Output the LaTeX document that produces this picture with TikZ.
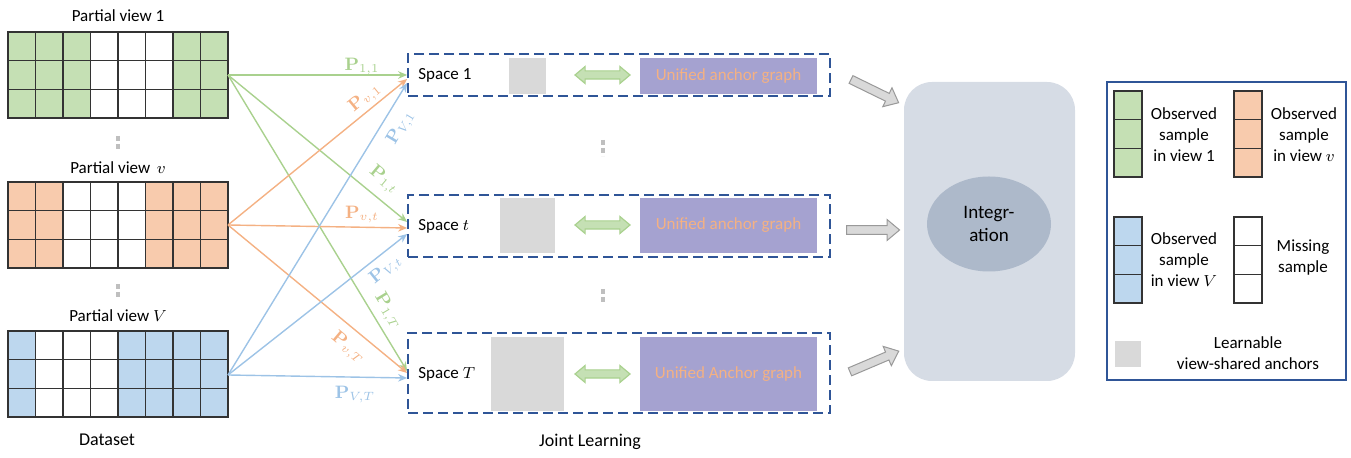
\documentclass[tikz,border=0pt]{standalone}
\usepackage[no-math]{fontspec}
\setmainfont{Carlito}
\usepackage{amsmath}
\usetikzlibrary{shapes.geometric,shapes.arrows,arrows.meta,positioning}
\definecolor{obsgreen}{HTML}{C5E0B4}
\definecolor{obsorange}{HTML}{F8CBAD}
\definecolor{obsblue}{HTML}{BDD7EE}
\definecolor{linegreen}{HTML}{A9D18E}
\definecolor{lineorange}{HTML}{F4B183}
\definecolor{lineblue}{HTML}{9DC3E6}
\definecolor{boxblue}{HTML}{2F5597}
\definecolor{graphpurple}{HTML}{A5A2D0}
\definecolor{anchorgray}{HTML}{D9D9D9}
\definecolor{integbg}{HTML}{D6DCE5}
\definecolor{integfg}{HTML}{ADB9CA}

\begin{document}
\begin{tikzpicture}[x=0.5pt,y=-0.5pt,
  lbl/.style={font=\fontsize{8.5}{10.5}\selectfont, inner sep=1pt, align=center},
  cell/.style={draw=black!80, line width=0.7pt},
  spacebox/.style={draw=boxblue, dash pattern=on 5pt off 2.5pt, line width=0.9pt, minimum width=211pt},
  anchorbox/.style={fill=anchorgray, inner sep=0pt},
  graphbox/.style={fill=graphpurple, minimum width=88.5pt, inner sep=0pt, text=lineorange, font=\fontsize{8.5}{10}\selectfont},
  link/.style={double arrow, fill=obsgreen, draw=linegreen, line width=0.6pt, minimum height=27.5pt, double arrow head extend=2.2pt, double arrow tip angle=80, inner xsep=0pt, inner ysep=1.75pt},
  blockarrow/.style={single arrow, fill=anchorgray, draw=black!40, line width=0.5pt, minimum height=26.5pt, single arrow head extend=3.1pt, single arrow tip angle=80, inner xsep=0pt, inner ysep=1.9pt},
  proj/.style={line width=0.7pt, ->},
  plbl/.style={font=\fontsize{9}{10}\selectfont, inner sep=0pt},
  vdots/.style={draw=black!25, line width=2.2pt, dash pattern=on 2.5pt off 1.5pt},
  >={Stealth[length=4.5pt,width=3.8pt]}
]
\useasboundingbox (0,0) rectangle (1351,458);

% dataset
\node[lbl] (title1) at (118,16) {Partial view 1};
\node[lbl] (titlev) at (118,168) {Partial view \,$v$};
\node[lbl] (titleV) at (118,316) {Partial view $V$};
\foreach \c/\f in {0/obsgreen,1/obsgreen,2/obsgreen,3/white,4/white,5/white,6/obsgreen,7/obsgreen}
  \foreach \r in {0,1,2}
    \draw[cell, fill=\f] ({8+27.5*\c},{32+28.67*\r}) rectangle ++(27.5,28.67);
\foreach \c/\f in {0/obsorange,1/obsorange,2/white,3/white,4/white,5/obsorange,6/obsorange,7/obsorange}
  \foreach \r in {0,1,2}
    \draw[cell, fill=\f] ({8+27.5*\c},{182+28.67*\r}) rectangle ++(27.5,28.67);
\foreach \c/\f in {0/obsblue,1/white,2/white,3/white,4/obsblue,5/obsblue,6/obsblue,7/obsblue}
  \foreach \r in {0,1,2}
    \draw[cell, fill=\f] ({8+27.5*\c},{331+28.67*\r}) rectangle ++(27.5,28.67);
\coordinate (dots1a) at (118,136); \coordinate (dots1b) at (118,152);
\coordinate (dots2a) at (118,284); \coordinate (dots2b) at (118,300);
\draw[vdots] (dots1a) -- (dots1b);
\draw[vdots] (dots2a) -- (dots2b);
\node[font=\fontsize{9}{11}\selectfont] (dataset) at (107,440) {Dataset};

\coordinate (src1) at (228,75);
\coordinate (srcv) at (228,225);
\coordinate (srcV) at (228,375);

% joint learning
\node[spacebox, minimum height=21pt] (space1) at (619,75) {};
\node[spacebox, minimum height=31pt] (spacet) at (619,226) {};
\node[spacebox, minimum height=40pt] (spaceT) at (619,373) {};

\node[lbl, anchor=west] (name1) at (416,75) {Space 1};
\node[lbl, anchor=west] (namet) at (416,226) {Space $t$};
\node[lbl, anchor=west] (nameT) at (416,374) {Space $T$};

\node[anchorbox, minimum width=18.5pt, minimum height=18pt] (anchor1) at (527.5,76) {};
\node[anchorbox, minimum width=27.5pt, minimum height=27.5pt] (anchort) at (527.5,225.5) {};
\node[anchorbox, minimum width=36.5pt, minimum height=37pt] (anchorT) at (527.5,374) {};

\node[graphbox, minimum height=18pt] (graph1) at (728.5,76) {Unified anchor graph};
\node[graphbox, minimum height=27.5pt] (grapht) at (728.5,225.5) {Unified anchor graph};
\node[graphbox, minimum height=37pt] (graphT) at (728.5,374) {Unified Anchor graph};

\node[link] (link1) at (602.5,75) {};
\node[link] (linkt) at (602.5,225) {};
\node[link] (linkT) at (602.5,374) {};

\coordinate (dots3a) at (603,140); \coordinate (dots3b) at (603,156);
\coordinate (dots4a) at (603,289); \coordinate (dots4b) at (603,305);
\draw[vdots] (dots3a) -- (dots3b);
\draw[vdots] (dots4a) -- (dots4b);
\node[font=\fontsize{9}{11}\selectfont] (joint) at (590,442) {Joint Learning};

% projections
\draw[proj, linegreen] (src1) -- (space1.west);
\draw[proj, linegreen] (src1) -- ([yshift=2pt]spacet.west);
\draw[proj, linegreen] (src1) -- ([yshift=1pt]spaceT.west);
\draw[proj, lineorange] (srcv) -- ([yshift=-2pt]space1.west);
\draw[proj, lineorange] (srcv) -- ([yshift=-1pt]spacet.west);
\draw[proj, lineorange] (srcv) -- (spaceT.west);
\draw[proj, lineblue] (srcV) -- ([yshift=-4pt]space1.west);
\draw[proj, lineblue] (srcV) -- ([yshift=-4pt]spacet.west);
\draw[proj, lineblue] (srcV) -- ([yshift=-2.5pt]spaceT.west);
\node[plbl, text=linegreen] (p11) at (362,66) {$\mathbf{P}_{1,1}$};
\node[plbl, text=linegreen, rotate=-40] (p1t) at (384,180) {$\mathbf{P}_{1,t}$};
\node[plbl, text=linegreen, rotate=-59] (p1T) at (388,311) {$\mathbf{P}_{1,T}$};
\node[plbl, text=lineorange, rotate=39.5] (pv1) at (365,98) {$\mathbf{P}_{v,1}$};
\node[plbl, text=lineorange] (pvt) at (362,214) {$\mathbf{P}_{v,t}$};
\node[plbl, text=lineorange, rotate=-40] (pvT) at (348,348) {$\mathbf{P}_{v,T}$};
\node[plbl, text=lineblue, rotate=59] (pV1) at (401,128) {$\mathbf{P}_{V,1}$};
\node[plbl, text=lineblue, rotate=38.5] (pVt) at (386,270) {$\mathbf{P}_{V,t}$};
\node[plbl, text=lineblue] (pVT) at (355,394) {$\mathbf{P}_{V,T}$};

% integration
\node[fill=integbg, rounded corners=14pt, minimum width=85.5pt, minimum height=149.5pt] (integ) at (989.5,231.5) {};
\node[ellipse, fill=integfg, minimum width=62pt, minimum height=47.5pt, inner sep=0pt, align=center, font=\fontsize{9.5}{11.5}\selectfont] (integr) at (989,224) {Integr-\\ation};
\node[blockarrow, rotate=-26] (flow1) at (872.5,90) {};
\node[blockarrow] (flowt) at (870.5,230) {};
\node[blockarrow, rotate=23] (flowT) at (872,362.5) {};

% legend
\node[draw=boxblue, line width=0.9pt, minimum width=119.5pt, minimum height=149pt] (legend) at (1226.5,231) {};
\foreach \r in {0,1,2} {
  \draw[cell, fill=obsgreen] (1114,{91+28.67*\r}) rectangle ++(28,28.67);
  \draw[cell, fill=obsorange] (1234,{91+28.67*\r}) rectangle ++(28,28.67);
  \draw[cell, fill=obsblue] (1114,{217+28.67*\r}) rectangle ++(28,28.67);
  \draw[cell, fill=white] (1234,{217+28.67*\r}) rectangle ++(28,28.67);
}
\node[lbl] (keygreen) at (1184,135) {Observed\\sample\\in view 1};
\node[lbl] (keyorange) at (1304,135) {Observed\\sample\\in view $v$};
\node[lbl] (keyblue) at (1184,260) {Observed\\sample\\in view $V$};
\node[lbl] (keymiss) at (1303,258) {Missing\\sample};
\node[anchorbox, minimum size=13pt] (keyanchor) at (1128,354) {};
\node[lbl] (keyanchortxt) at (1248,353) {Learnable\\view-shared anchors};
\end{tikzpicture}
\end{document}
